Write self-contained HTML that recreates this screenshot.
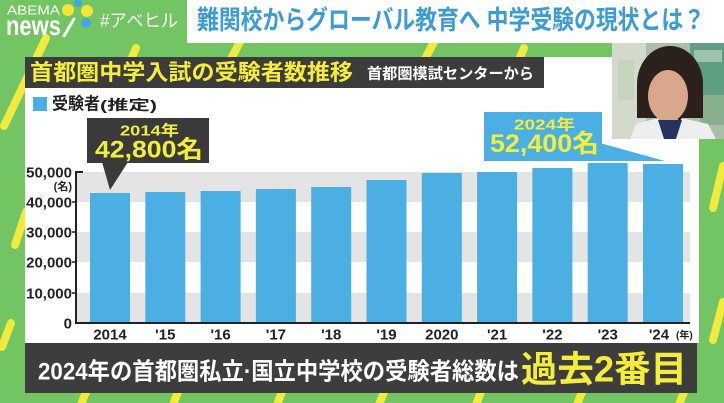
<!DOCTYPE html>
<html>
<head>
<meta charset="utf-8">
<style>
  html,body{margin:0;padding:0;background:#72c562;}
  body{width:724px;height:403px;overflow:hidden;}
  svg{display:block;}
  text{font-family:"Liberation Sans","Noto Sans CJK JP",sans-serif;}
</style>
</head>
<body>
<svg width="724" height="403" viewBox="0 0 724 403" xmlns="http://www.w3.org/2000/svg">
  <!-- green background -->
  <rect x="0" y="0" width="724" height="403" fill="#72c562"/>

  <!-- yellow stripes -->
  <g stroke="#f2ea3c" stroke-width="8" stroke-linecap="round" fill="none">
    <line x1="46" y1="38" x2="4" y2="126"/>
    <line x1="26" y1="212" x2="15" y2="245"/>
    <line x1="11" y1="323" x2="2" y2="347"/>
    <line x1="241" y1="40" x2="224" y2="72"/>
    <line x1="435" y1="40" x2="418" y2="72"/>
    <line x1="136" y1="48" x2="130" y2="62"/>
    <line x1="524" y1="48" x2="518" y2="62"/>
    <line x1="723" y1="166" x2="713" y2="208"/>
    <line x1="723" y1="302" x2="713" y2="340"/>
    <line x1="86" y1="392" x2="78" y2="412"/>
    <line x1="178" y1="392" x2="170" y2="412"/>
    <line x1="282" y1="392" x2="274" y2="412"/>
    <line x1="384" y1="392" x2="376" y2="412"/>
    <line x1="481" y1="392" x2="473" y2="412"/>
    <line x1="582" y1="392" x2="574" y2="412"/>
    <line x1="684" y1="392" x2="676" y2="412"/>
  </g>

  <!-- logo -->
  <text x="7" y="10" dominant-baseline="central" font-size="13" fill="#ffffff" textLength="53" lengthAdjust="spacingAndGlyphs">ABEMA</text>
  <text x="6" y="35" font-size="28" font-weight="bold" fill="#ffffff" textLength="55" lengthAdjust="spacingAndGlyphs">news</text>
  <line x1="74" y1="19" x2="64" y2="36" stroke="#ffffff" stroke-width="3" stroke-linecap="round"/>
  <circle cx="68" cy="10" r="6" fill="#f3e53a"/>
  <circle cx="78" cy="3" r="4" fill="#3fa9e0"/>
  <circle cx="87" cy="11" r="6" fill="#f3e53a"/>
  <circle cx="86" cy="23" r="5" fill="#3fa9e0"/>
  <text x="100" y="21" dominant-baseline="central" font-size="18" fill="#ffffff" textLength="78" lengthAdjust="spacingAndGlyphs">#アベヒル</text>

  <!-- title box -->
  <rect x="187" y="0" width="537" height="43" fill="#ffffff"/>
  <text x="197" y="20" dominant-baseline="central" font-size="26" font-weight="bold" fill="#3b9cd6" textLength="508" lengthAdjust="spacingAndGlyphs">難関校からグローバル教育へ 中学受験の現状とは？</text>

  <!-- white panel -->
  <rect x="25" y="57" width="674" height="286" fill="#ffffff"/>

  <!-- dark title bar -->
  <rect x="25" y="57" width="519" height="31" fill="#3c3c3c"/>
  <text x="30" y="72.5" dominant-baseline="central" font-size="22" font-weight="bold" fill="#f4ee3a" textLength="323" lengthAdjust="spacingAndGlyphs">首都圏中学入試の受験者数推移</text>
  <text x="367" y="74" dominant-baseline="central" font-size="15" font-weight="bold" fill="#ffffff" textLength="167" lengthAdjust="spacingAndGlyphs">首都圏模試センターから</text>

  <!-- photo -->
  <defs>
    <clipPath id="ph"><rect x="612" y="43" width="112" height="96"/></clipPath>
  </defs>
  <g clip-path="url(#ph)">
    <rect x="612" y="43" width="112" height="96" fill="#a9bfa8"/>
    <rect x="612" y="43" width="34" height="96" fill="#d3dacb"/>
    <rect x="618" y="60" width="16" height="40" fill="#c6d3bd"/>
    <rect x="690" y="43" width="34" height="70" fill="#5f9f80"/>
    <rect x="694" y="50" width="28" height="12" fill="#9cc4ac"/>
    <rect x="700" y="95" width="24" height="30" fill="#88b08e"/>
    <ellipse cx="670" cy="84" rx="33" ry="38" fill="#2b211c"/>
    <rect x="637" y="84" width="66" height="34" fill="#2b211c"/>
    <rect x="660" y="112" width="18" height="18" fill="#cf9a80"/>
    <ellipse cx="668" cy="96" rx="20" ry="26" fill="#d9a78c"/>
    <path d="M630 139 L636 124 L658 118 L670 134 L682 118 L708 124 L716 139 Z" fill="#eceef0"/>
    <path d="M658 120 L682 120 L676 139 L664 139 Z" fill="#26335e"/>
  </g>

  <!-- legend -->
  <rect x="33" y="97" width="14" height="14" fill="#4cafe4"/>
  <text x="52" y="104" dominant-baseline="central" font-size="17" font-weight="bold" fill="#222222" textLength="48" lengthAdjust="spacingAndGlyphs">受験者</text>
  <text x="100" y="105" dominant-baseline="central" font-size="14" font-weight="bold" fill="#222222" textLength="57" lengthAdjust="spacingAndGlyphs">(推定)</text>

  <!-- gray bands -->
  <rect x="76" y="172" width="614" height="30" fill="#e4e4e4"/>
  <rect x="76" y="232" width="614" height="30" fill="#e4e4e4"/>
  <rect x="76" y="293" width="614" height="30" fill="#e4e4e4"/>

  <!-- bars -->
  <g fill="#4cafe4">
    <rect x="90" y="193" width="40" height="130"/>
    <rect x="145.3" y="192" width="40" height="131"/>
    <rect x="200.6" y="191" width="40" height="132"/>
    <rect x="255.9" y="189" width="40" height="134"/>
    <rect x="311.2" y="187" width="40" height="136"/>
    <rect x="366.5" y="180" width="40" height="143"/>
    <rect x="421.8" y="173" width="40" height="150"/>
    <rect x="477.1" y="172" width="40" height="151"/>
    <rect x="532.4" y="168" width="40" height="155"/>
    <rect x="587.7" y="163" width="40" height="160"/>
    <rect x="643" y="164" width="40" height="159"/>
  </g>

  <!-- axes -->
  <line x1="76" y1="171" x2="76" y2="324" stroke="#222222" stroke-width="2"/>
  <line x1="75" y1="323" x2="690" y2="323" stroke="#222222" stroke-width="2"/>
  <line x1="76" y1="172" x2="83" y2="172" stroke="#222222" stroke-width="2"/>
  <g stroke="#222222" stroke-width="1.5">
    <line x1="72" y1="202" x2="76" y2="202"/>
    <line x1="72" y1="232" x2="76" y2="232"/>
    <line x1="72" y1="262" x2="76" y2="262"/>
    <line x1="72" y1="293" x2="76" y2="293"/>
  </g>

  <!-- y labels -->
  <g font-size="15" font-weight="bold" fill="#222222" text-anchor="end">
    <text x="72" y="173" dominant-baseline="central">50,000</text>
    <text x="72" y="203" dominant-baseline="central">40,000</text>
    <text x="72" y="233" dominant-baseline="central">30,000</text>
    <text x="72" y="263" dominant-baseline="central">20,000</text>
    <text x="72" y="294" dominant-baseline="central">10,000</text>
    <text x="72" y="324" dominant-baseline="central">0</text>
  </g>
  <text x="72" y="187" text-anchor="end" dominant-baseline="central" font-size="11" font-weight="bold" fill="#222222">(名)</text>

  <!-- x labels -->
  <g font-size="15" font-weight="bold" fill="#222222" text-anchor="middle">
    <text x="110" y="335" dominant-baseline="central">2014</text>
    <text x="165.3" y="335" dominant-baseline="central">'15</text>
    <text x="220.6" y="335" dominant-baseline="central">'16</text>
    <text x="275.9" y="335" dominant-baseline="central">'17</text>
    <text x="331.2" y="335" dominant-baseline="central">'18</text>
    <text x="386.5" y="335" dominant-baseline="central">'19</text>
    <text x="441.8" y="335" dominant-baseline="central">2020</text>
    <text x="497.1" y="335" dominant-baseline="central">'21</text>
    <text x="552.4" y="335" dominant-baseline="central">'22</text>
    <text x="607.7" y="335" dominant-baseline="central">'23</text>
    <text x="659" y="335" dominant-baseline="central">'24</text>
  </g>
  <text x="676" y="336" dominant-baseline="central" font-size="10" font-weight="bold" fill="#222222">(年)</text>

  <!-- callout 2014 -->
  <rect x="87" y="118" width="122" height="45" fill="#3a3a3a"/>
  <polygon points="102,162 128,162 110,190" fill="#3a3a3a"/>
  <text x="120" y="131" dominant-baseline="central" font-size="15" font-weight="bold" fill="#f4ee3a" textLength="59" lengthAdjust="spacingAndGlyphs">2014年</text>
  <text x="95" y="150" dominant-baseline="central" font-size="24" font-weight="bold" fill="#f4ee3a" textLength="108" lengthAdjust="spacingAndGlyphs">42,800名</text>

  <!-- callout 2024 -->
  <rect x="484" y="112" width="118" height="49" fill="#4cafe4"/>
  <polygon points="600,143 665,161 600,161" fill="#4cafe4"/>
  <text x="514" y="125" dominant-baseline="central" font-size="15" font-weight="bold" fill="#f4ee3a" textLength="61" lengthAdjust="spacingAndGlyphs">2024年</text>
  <text x="490" y="144" dominant-baseline="central" font-size="25" font-weight="bold" fill="#f4ee3a" textLength="109" lengthAdjust="spacingAndGlyphs">52,400名</text>

  <!-- bottom caption bar -->
  <rect x="25" y="343" width="672" height="50" fill="#3d3d3d"/>
  <text x="38" y="372" dominant-baseline="central" font-size="24" font-weight="bold" fill="#ffffff" textLength="481" lengthAdjust="spacingAndGlyphs">2024年の首都圏私立·国立中学校の受験者総数は</text>
  <text x="521" y="369" dominant-baseline="central" font-size="36" font-weight="bold" fill="#f4ee3a" textLength="166" lengthAdjust="spacingAndGlyphs">過去2番目</text>
</svg>
</body>
</html>
